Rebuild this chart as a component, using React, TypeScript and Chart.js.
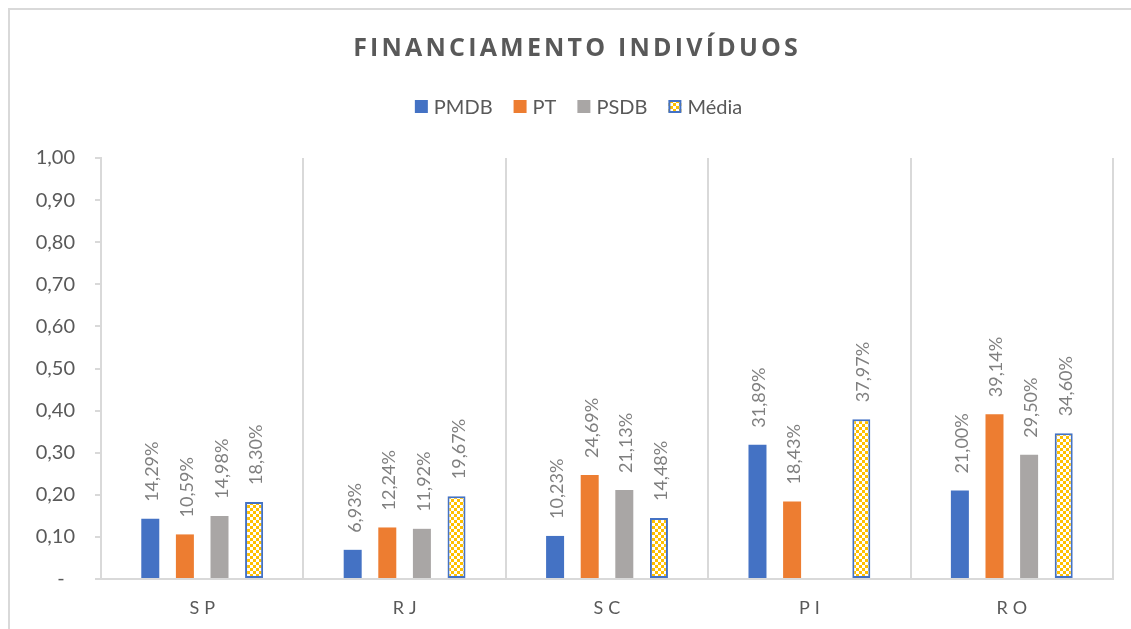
import React, { useEffect, useRef } from 'react';
import { Chart, registerables } from 'chart.js';

Chart.register(...registerables);

const TITLE = 'FINANCIAMENTO INDIVÍDUOS';
const STATES = ['SP', 'RJ', 'SC', 'PI', 'RO'];
const SERIES_NAMES = ['PMDB', 'PT', 'PSDB', 'Média'];
const PMDB = [0.1429, 0.0693, 0.1023, 0.3189, 0.21];
const PT = [0.1059, 0.1224, 0.2469, 0.1843, 0.3914];
const PSDB = [0.1498, 0.1192, 0.2113, null, 0.295];
const MEDIA = [0.183, 0.1967, 0.1448, 0.3797, 0.346];
const Y_MIN = 0;
const Y_MAX = 1;
const Y_STEP = 0.1;

const COLORS = ['#4472C4', '#ED7D31', '#A9A6A5'];
const MEDIA_YELLOW = '#FFC000';
const MEDIA_BORDER = '#4472C4';
const TEXT = '#595959';
const LABEL = '#7F7F7F';
const LINE = '#D9D9D9';
const FONT = 'Lato';

function fmtPct(v: number) {
  return (v * 100).toFixed(2).replace('.', ',') + '%';
}

export default function App() {
  const ref = useRef<HTMLCanvasElement | null>(null);

  useEffect(() => {
    const canvas = ref.current;
    if (!canvas) return;
    const ctx = canvas.getContext('2d')!;

    const tile = document.createElement('canvas');
    tile.width = 6;
    tile.height = 6;
    const tg = tile.getContext('2d')!;
    tg.fillStyle = '#FFFFFF';
    tg.fillRect(0, 0, 6, 6);
    tg.fillStyle = MEDIA_YELLOW;
    tg.fillRect(0, 0, 3, 3);
    tg.fillRect(3, 3, 3, 3);
    const checker = ctx.createPattern(tile, 'repeat')!;

    const titleLegendPlugin = {
      id: 'titleLegend',
      afterDraw(chart: any) {
        const c = chart.ctx as CanvasRenderingContext2D;
        const cx = chart.width / 2;
        // title
        c.save();
        c.font = `bold 25px "Open Sans"`;
        (c as any).letterSpacing = '3.2px';
        c.fillStyle = TEXT;
        c.textAlign = 'left';
        c.textBaseline = 'alphabetic';
        const tw = c.measureText(TITLE).width - 3.2;
        c.fillText(TITLE, cx - tw / 2, 46);
        c.restore();

        // legend
        c.save();
        c.font = `20px ${FONT}`;
        c.textBaseline = 'alphabetic';
        c.textAlign = 'left';
        const box = 13;
        const gapText = 6;
        const gapItem = 21;
        const ds = chart.data.datasets;
        const widths = ds.map((d: any) => box + gapText + c.measureText(d.label).width);
        const total = widths.reduce((a: number, b: number) => a + b, 0) + gapItem * (ds.length - 1);
        let x = cx - total / 2 + 3;
        const boxTop = 90;
        const baseline = 103.5;
        ds.forEach((d: any, i: number) => {
          c.fillStyle = d.backgroundColor;
          c.fillRect(x, boxTop, box, box);
          if (d.borderWidth) {
            c.strokeStyle = d.borderColor;
            c.lineWidth = 2;
            c.strokeRect(x + 1, boxTop + 1, box - 2, box - 2);
          }
          c.fillStyle = TEXT;
          c.fillText(d.label, x + box + gapText, baseline);
          x += widths[i] + gapItem;
        });
        c.restore();

        // x category labels (letter spaced)
        const xs = chart.scales.x;
        c.save();
        c.font = `18px ${FONT}`;
        (c as any).letterSpacing = '5px';
        c.fillStyle = TEXT;
        c.textAlign = 'left';
        c.textBaseline = 'alphabetic';
        chart.data.labels.forEach((lab: string, i: number) => {
          const w = c.measureText(lab).width - 5;
          c.fillText(lab, xs.getPixelForValue(i) - w / 2, chart.chartArea.bottom + 35);
        });
        c.restore();
      },
      afterDatasetsDraw(chart: any) {
        const c = chart.ctx as CanvasRenderingContext2D;
        c.save();
        c.font = `18px ${FONT}`;
        c.fillStyle = LABEL;
        c.textAlign = 'left';
        c.textBaseline = 'alphabetic';
        chart.data.datasets.forEach((d: any, di: number) => {
          const meta = chart.getDatasetMeta(di);
          meta.data.forEach((el: any, i: number) => {
            const v = d.data[i];
            if (v === null || v === undefined) return;
            c.save();
            c.translate(el.x + 8, el.y - 17);
            c.rotate(-Math.PI / 2);
            c.fillText(fmtPct(v), 0, 0);
            c.restore();
          });
        });
        c.restore();
      },
    };

    const common = { categoryPercentage: 0.684, barPercentage: 0.52 };

    const chart = new Chart(canvas, {
      type: 'bar',
      data: {
        labels: STATES,
        datasets: [
          { label: SERIES_NAMES[0], data: PMDB, backgroundColor: COLORS[0], borderWidth: 0, ...common },
          { label: SERIES_NAMES[1], data: PT, backgroundColor: COLORS[1], borderWidth: 0, ...common },
          { label: SERIES_NAMES[2], data: PSDB, backgroundColor: COLORS[2], borderWidth: 0, ...common },
          {
            label: SERIES_NAMES[3],
            data: MEDIA,
            backgroundColor: checker as any,
            borderColor: MEDIA_BORDER,
            borderWidth: 2,
            borderSkipped: false,
            ...common,
          },
        ] as any,
      },
      options: {
        responsive: false,
        animation: false,
        devicePixelRatio: 1,
        layout: { padding: { top: 148, left: 0, right: 28, bottom: 0 } },
        plugins: {
          legend: { display: false },
          title: { display: false },
          tooltip: { enabled: false },
        },
        scales: {
          x: {
            type: 'category',
            grid: { display: true, offset: true, drawTicks: false, color: LINE, lineWidth: 2 },
            border: { display: true, color: LINE, width: 2 },
            ticks: { display: false },
            afterFit: (s: any) => {
              s.height = 50;
            },
          },
          y: {
            min: Y_MIN,
            max: Y_MAX,
            grid: { drawOnChartArea: false, drawTicks: true, tickLength: 6, color: LINE, lineWidth: 2 },
            border: { display: true, color: LINE, width: 2 },
            ticks: {
              stepSize: Y_STEP,
              padding: 20,
              color: TEXT,
              font: { family: FONT, size: 20 },
              callback: (v: any) => (Number(v) === 0 ? '-  ' : Number(v).toFixed(2).replace('.', ',')),
            },
            afterFit: (s: any) => {
              s.width = 91;
            },
          },
        },
      } as any,
      plugins: [titleLegendPlugin],
    });

    return () => chart.destroy();
  }, []);

  return (
    <div
      style={{
        position: 'fixed',
        left: 8,
        top: 8,
        borderLeft: `2px solid ${LINE}`,
        borderTop: `2px solid ${LINE}`,
        background: '#FFFFFF',
      }}
    >
      <canvas ref={ref} width={1131} height={619} style={{ display: 'block' }} />
    </div>
  );
}
